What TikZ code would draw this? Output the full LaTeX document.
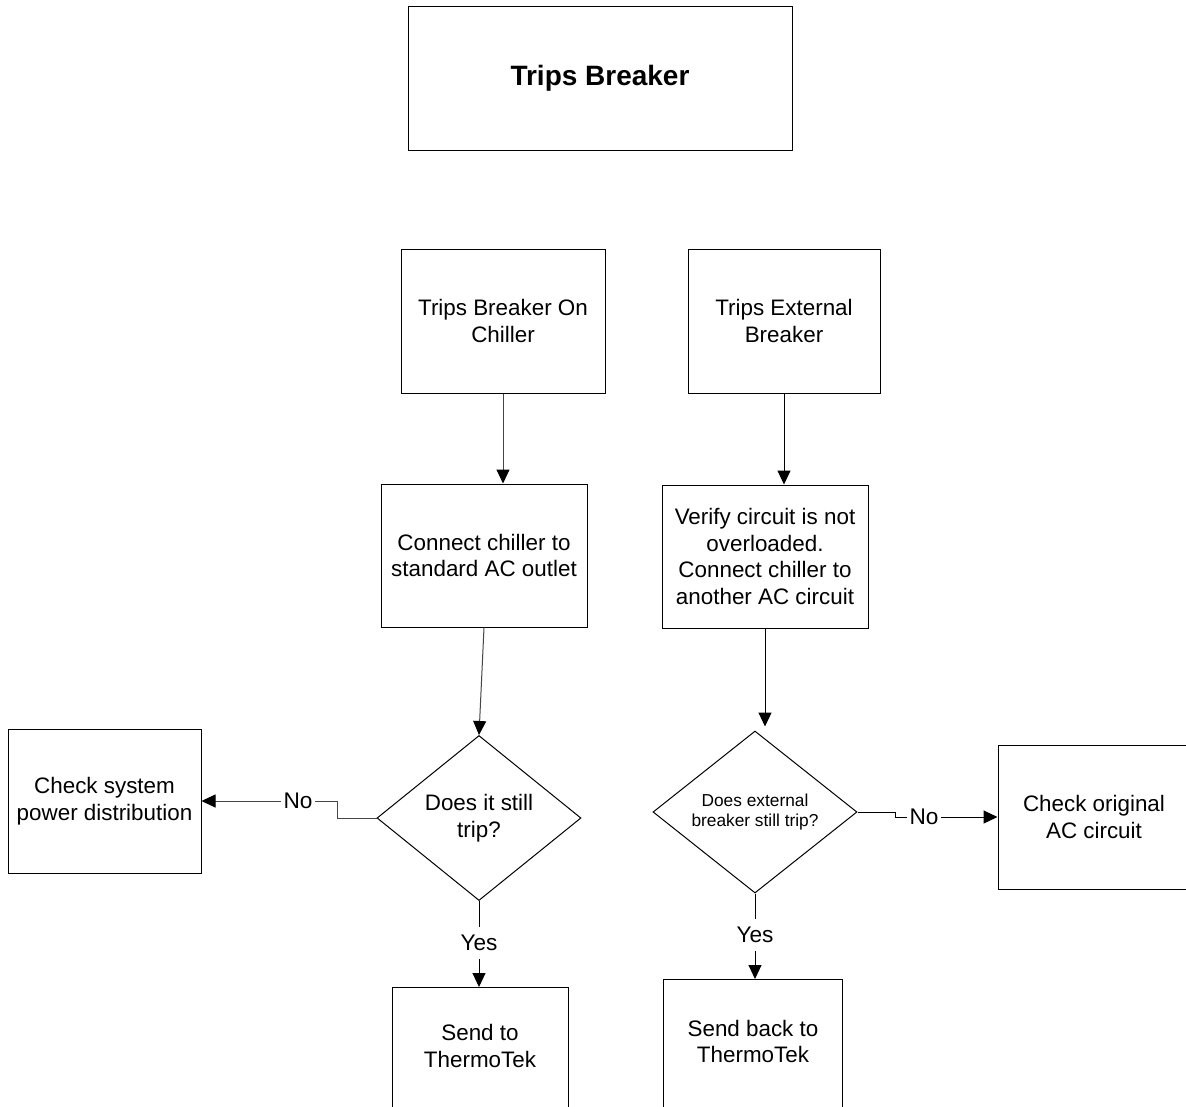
\documentclass[tikz,border=0pt]{standalone}
\usepackage{fontspec}
\setmainfont{Liberation Sans}
\usetikzlibrary{arrows.meta,shapes.geometric}
\begin{document}
\begin{tikzpicture}[x=1pt,y=-1pt,
  txt/.style={align=center, font=\fontsize{22.4}{26.5}\selectfont},
  box/.style={txt, draw=black, line width=1pt, rectangle, inner sep=0pt},
  dia/.style={txt, draw=black, line width=1pt, diamond, inner sep=0pt, shape aspect=1.24},
  conn/.style={line width=1pt, -{Triangle[length=14pt,width=13pt,color=black,fill=black]}},
  gconn/.style={conn, draw=gray!55!black},
  lbl/.style={fill=white, inner xsep=3pt, inner ysep=8pt, font=\fontsize{22.6}{26}\selectfont}
]
\path[use as bounding box] (0,0) rectangle (1186,1106);
\fill[white] (0,0) rectangle (1186,1106);
\clip (0,0) rectangle (1186,1106);

\node[box, minimum width=384pt, minimum height=144pt, font=\bfseries\fontsize{28}{32}\selectfont] (title) at (600,78) {Trips Breaker};

\node[box, minimum width=204pt, minimum height=144pt] (A) at (503,321) {Trips Breaker On\\Chiller};
\node[box, minimum width=192pt, minimum height=144pt] (B) at (784,321) {Trips External\\Breaker};
\node[box, minimum width=206pt, minimum height=143pt] (C) at (484,555.5) {Connect chiller to\\standard AC outlet};
\node[box, minimum width=206pt, minimum height=143pt] (D) at (765,556.5) {Verify circuit is not\\overloaded.\\Connect chiller to\\another AC circuit};
\node[dia, minimum width=204pt, minimum height=165pt] (dL) at (479,818) {Does it still\\trip?};
\node[dia, minimum width=204pt, minimum height=162pt, font=\fontsize{17.3}{20}\selectfont] (dR) at (755,812) {Does external\\breaker still trip?};
\node[box, minimum width=193pt, minimum height=144pt] (E) at (104.5,801) {Check system\\power distribution};
\node[box, minimum width=192pt, minimum height=144pt] (F) at (1094,817) {Check original\\AC circuit};
\node[box, minimum width=176pt, minimum height=160pt, anchor=north] (G) at (480,987) {};
\node[txt] (Gt) at (480,1046) {Send to\\ThermoTek};
\node[box, minimum width=179pt, minimum height=160pt, anchor=north] (H) at (752.5,979) {};
\node[txt] (Ht) at (753,1041.5) {Send back to\\ThermoTek};

\draw[gconn] (A.south) -- (A.south |- C.north);
\draw[conn] (B.south) -- (B.south |- D.north);
\draw[gconn] (C.south) -- (dL.north);
\draw[conn, shorten >=4pt] (D.south) -- (D.south |- dR.north);

\draw[gconn] (dL.west) -- ++(-39,0) |- (E.east);
\node[lbl] (noL) at (298,801) {No};
\draw[conn] (dR.east) -- ++(38,0) -- ++(0,5) -- (F.west);
\node[lbl] (noR) at (924,817) {No};

\draw[conn] (dL.south) -- (dL.south |- G.north);
\node[lbl] (yesL) at (479,943) {Yes};
\draw[conn] (dR.south) -- (dR.south |- H.north);
\node[lbl] (yesR) at (755,935) {Yes};
\end{tikzpicture}
\end{document}
